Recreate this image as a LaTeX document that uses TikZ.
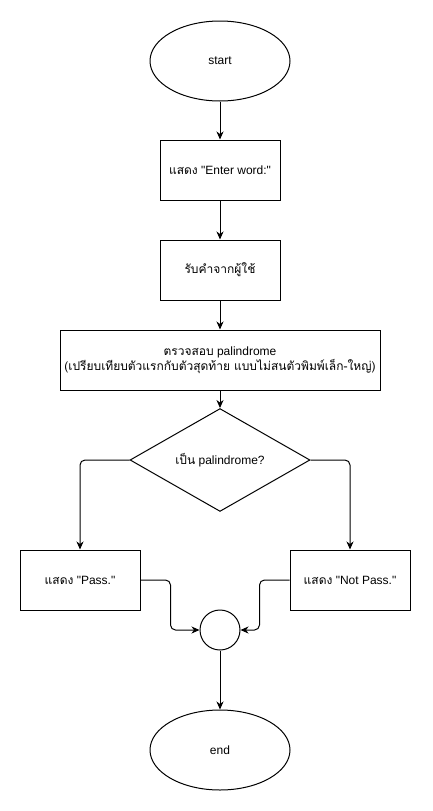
\documentclass[tikz,border=0pt]{standalone}
\usepackage{fontspec}
\setmainfont{Liberation Sans}[Ligatures=TeXOff]
\newfontfamily\thaifont[Script=Thai,Ligatures=TeXOff]{Loma}
\newcommand\tht[1]{{\thaifont #1}}
\usetikzlibrary{shapes.geometric,arrows.meta}
\begin{document}
\begin{tikzpicture}[x=1pt,y=-1pt,
  every node/.style={font=\fontsize{12}{15}\selectfont, inner sep=0pt, line width=1pt},
  term/.style={draw, ellipse, minimum width=140pt, minimum height=80pt},
  stepbox/.style={draw, rectangle, minimum width=120pt, minimum height=60pt},
  widebox/.style={draw, rectangle, minimum width=320pt, minimum height=60pt, align=center},
  decision/.style={draw, diamond, minimum width=180pt, minimum height=80pt},
  joiner/.style={draw, circle, minimum size=40pt},
  arr/.style={line width=1pt, -{Stealth[length=8pt,width=7pt,inset=2.5pt]}}
]
\useasboundingbox[fill=white] (0,0) rectangle (432,811);
\node[term] (start) at (220,61) {start};
\node[stepbox] (show) at (220,170) {\tht{แสดง} "Enter word:"};
\node[stepbox] (read) at (220,270) {\tht{รับคำจากผู้ใช้}};
\node[widebox] (check) at (220,360) {\tht{ตรวจสอบ} palindrome\\\tht{(เปรียบเทียบตัวแรกกับตัวสุดท้าย แบบไม่สนตัวพิมพ์เล็ก-ใหญ่)}};
\node[decision] (dec) at (220,460) {\tht{เป็น} palindrome?};
\node[stepbox] (pass) at (80,580) {\tht{แสดง} "Pass."};
\node[stepbox] (fail) at (350,580) {\tht{แสดง} "Not Pass."};
\node[joiner] (merge) at (220,630) {};
\node[term] (stop) at (220,750) {end};
\draw[arr] (start) -- (show);
\draw[arr] (show) -- (read);
\draw[arr] (read) -- (check);
\draw[arr] (check) -- (dec);
\draw[arr, rounded corners=5pt] (dec.west) -| (pass.north);
\draw[arr, rounded corners=5pt] (dec.east) -| (fail.north);
\draw[arr, rounded corners=5pt] (pass.east) -- ++(30,0) |- (merge.west);
\draw[arr, rounded corners=5pt] (fail.west) -- ++(-30,0) |- (merge.east);
\draw[arr] (merge) -- (stop);
\end{tikzpicture}
\end{document}
